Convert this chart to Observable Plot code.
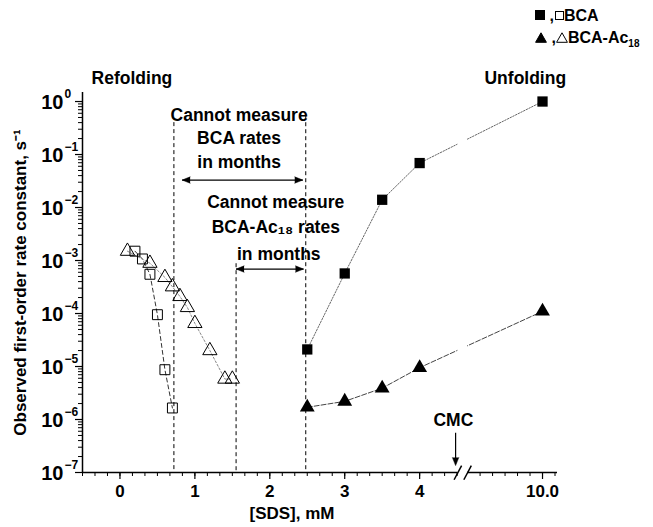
<!DOCTYPE html>
<html><head><meta charset="utf-8">
<script src="https://cdn.jsdelivr.net/npm/d3@7"></script>
<script src="https://cdn.jsdelivr.net/npm/@observablehq/plot@0.6"></script>
<style>
body{margin:0;background:#fff;}
#wrap{position:relative;width:653px;height:527px;font-family:"Liberation Sans",Arial,Helvetica,sans-serif;font-weight:bold;color:#000;}
#legend{position:absolute;left:535px;top:5px;font-size:16px;line-height:22px;white-space:nowrap;}
#legend svg{vertical-align:middle;margin-top:-3px;}
#legend sub{font-size:10px;}
</style></head><body><div id="wrap"><div id="legend"></div></div>
<script>
// ---- data ----
const bcaRefoldX = [0.2, 0.3, 0.4, 0.5, 0.6, 0.7];
const bcaRefoldY = [1.5e-3, 1.07e-3, 5.5e-4, 9.5e-5, 8.7e-6, 1.65e-6];
const acRefoldX = [0.1, 0.4, 0.6, 0.7, 0.8, 0.9, 1.0, 1.2, 1.4, 1.5];
const acRefoldY = [1.5e-3, 8.9e-4, 4.8e-4, 3.2e-4, 2.1e-4, 1.3e-4, 6.5e-5, 2.0e-5, 5.8e-6, 5.8e-6];
const unfoldX = [2.5, 3, 3.5, 4, 10];
const bcaUnfoldY = [2.1e-5, 5.7e-4, 1.4e-2, 6.9e-2, 1.0];
const acUnfoldY = [1.7e-6, 2.2e-6, 3.9e-6, 9.5e-6, 1.1e-4];
const xTickValues = [0, 1, 2, 3, 4, 10];
const xTickLabels = ["0", "1", "2", "3", "4", "10.0"];
const yTickExponents = [0, -1, -2, -3, -4, -5, -6, -7];
const boundaryX = [0.72, 1.55, 2.48];
const boundaryTop = [0.4, 8.7e-4, 0.54];
const seriesNames = ["BCA", "BCA-Ac"];

// ---- broken x axis: values beyond the break are drawn right of it ----
const BREAK = 4.575, P10 = 5.64;
const pos = x => x <= BREAK ? x : P10 + (x - 10) / 6;
const rows = (xs, ys) => xs.map((x, i) => ({x: pos(x), y: ys[i]}));
const bcaRefold = rows(bcaRefoldX, bcaRefoldY);
const acRefold = rows(acRefoldX, acRefoldY);
const bcaUnfold = rows(unfoldX, bcaUnfoldY);
const acUnfold = rows(unfoldX, acUnfoldY);

const yMajor = yTickExponents.map(e => Math.pow(10, e));
const yMinor = [];
for (let e = -7; e < 0; e++) for (let k = 2; k <= 9; k++) yMinor.push(k * Math.pow(10, e));
const xMajor = xTickValues.map(pos);
const xMinor = [];
for (let v = -0.5; v <= BREAK - 0.01; v += 1 / 6) xMinor.push(v);
for (let k = -5; k <= 1; k++) xMinor.push(P10 + k / 6);
const xLabel = d => { const i = xMajor.findIndex(v => Math.abs(v - d) < 1e-6); return i >= 0 ? xTickLabels[i] : ""; };

const gapL = BREAK - 0.065, gapR = BREAK + 0.065;
const font = "Liberation Sans, Arial, Helvetica, sans-serif";

const annotations = [
  {x: 0.16, y: 2.68, text: "Refolding"},
  {x: 5.41, y: 2.68, text: "Unfolding"},
  {x: 1.59, y: 0.55, text: "Cannot measure"},
  {x: 1.59, y: 0.2, text: "BCA rates"},
  {x: 1.59, y: 0.071, text: "in months"},
  {x: 2.08, y: 1.25e-2, text: "Cannot measure"},
  {x: 2.08, y: 4.3e-3, text: "BCA-Ac\u2081\u2088 rates"},
  {x: 2.12, y: 1.33e-3, text: "in months"},
  {x: 4.45, y: 9.5e-7, text: "CMC"}
];
const arrows = [
  {x1: 0.83, x2: 2.44, y: 0.033},
  {x1: 1.55, x2: 2.45, y: 6.9e-4}
];
const heads = [];
arrows.forEach(a => { heads.push({x: a.x1, y: a.y, r: 270}); heads.push({x: a.x2, y: a.y, r: 90}); });
heads.push({x: 4.48, y: 1.35e-7, r: 180});

const chart = Plot.plot({
  width: 653, height: 527,
  marginLeft: 82, marginRight: 96, marginTop: 92, marginBottom: 55,
  style: {fontFamily: font, fontWeight: "bold", background: "transparent", color: "#000"},
  x: {type: "linear", domain: [-0.5, 5.84]},
  y: {type: "log", domain: [1e-7, 1.48]},
  marks: [
    // connecting lines
    Plot.line(bcaRefold, {x: "x", y: "y", stroke: "#333", strokeWidth: 1, strokeDasharray: "4,3"}),
    Plot.line(acRefold, {x: "x", y: "y", stroke: "#888", strokeWidth: 1, strokeDasharray: "2,2"}),
    Plot.line(bcaUnfold, {x: "x", y: "y", stroke: "#666", strokeWidth: 1, strokeDasharray: "1.5,1.5"}),
    Plot.line(acUnfold, {x: "x", y: "y", stroke: "#444", strokeWidth: 1, strokeDasharray: "5,2"}),
    // gap where the lines cross the axis break
    Plot.rect([0], {x1: gapL, x2: gapR, y1: 1.1e-7, y2: 1.3, fill: "white"}),
    // boundaries
    Plot.ruleX(boundaryX, {x: d => d, y1: (d, i) => boundaryTop[i], y2: 1e-7, stroke: "black", strokeWidth: 1, strokeDasharray: "4,3"}),
    // points
    Plot.dot(bcaRefold, {x: "x", y: "y", symbol: "square", r: 5.6, fill: "none", stroke: "black", strokeWidth: 1}),
    Plot.dot(acRefold, {x: "x", y: "y", symbol: "triangle", r: 5.3, fill: "none", stroke: "black", strokeWidth: 1}),
    Plot.dot(bcaUnfold, {x: "x", y: "y", symbol: "square", r: 5.8, fill: "black", stroke: "none"}),
    Plot.dot(acUnfold, {x: "x", y: "y", symbol: "triangle", r: 5.5, fill: "black", stroke: "none"}),
    // annotations
    Plot.text(annotations, {x: "x", y: "y", text: "text", textAnchor: "middle", fontSize: 17.5, fontWeight: "bold", fill: "black"}),
    Plot.link(arrows, {x1: "x1", x2: "x2", y1: "y", y2: "y", stroke: "black", strokeWidth: 1.2}),
    Plot.link([0], {x1: 4.48, x2: 4.48, y1: 5.6e-7, y2: 1.5e-7, stroke: "black", strokeWidth: 1.2}),
    Plot.vector(heads, {x: "x", y: "y", rotate: "r", length: 8, r: 3.2, shape: "spike", anchor: "end", fill: "black", stroke: "black", strokeWidth: 0.5}),
    // axes
    Plot.ruleX([-0.5], {stroke: "black", strokeWidth: 1.5}),
    Plot.ruleY([{a: -0.5, b: gapL}, {a: gapR, b: 5.84}], {y: 1e-7, x1: "a", x2: "b", stroke: "black", strokeWidth: 1.5}),
    Plot.link([{a: gapL - 0.05, b: gapL + 0.05}, {a: gapR - 0.05, b: gapR + 0.05}], {x1: "a", x2: "b", y1: 7.3e-8, y2: 1.35e-7, stroke: "black", strokeWidth: 1.5}),
    Plot.axisY({ticks: yMajor, tickFormat: () => "", tickSize: 7, label: null, strokeWidth: 1.2}),
    Plot.axisY({ticks: yMinor, tickFormat: () => "", tickSize: 4, label: null}),
    Plot.text(yMajor, {y: d => d, frameAnchor: "left", textAnchor: "end", dx: -19, dy: 1, text: () => "10", fontSize: 20, fontWeight: "bold", fill: "black"}),
    Plot.text(yMajor, {y: d => d, frameAnchor: "left", textAnchor: "start", dx: -18, dy: -7, text: d => String(Math.round(Math.log10(d))).replace("-", "\u2212"), fontSize: 12, fontWeight: "bold", fill: "black"}),
    Plot.axisX({ticks: xMajor, tickFormat: xLabel, tickSize: 7, tickPadding: 5, fontSize: 17, fontWeight: "bold", label: null, strokeWidth: 1.2}),
    Plot.axisX({ticks: xMinor, tickFormat: () => "", tickSize: 4, label: null}),
    Plot.text(["[SDS], mM"], {frameAnchor: "bottom", textAnchor: "middle", dx: -28, dy: 46, fontSize: 17, fontWeight: "bold", fill: "black"}),
    Plot.text(["Observed first-order rate constant, s\u207B\u00B9"], {frameAnchor: "left", textAnchor: "middle", rotate: -90, dx: -62, fontSize: 17, fontWeight: "bold", fill: "black"})
  ]
});
const wrap = document.getElementById("wrap");
wrap.insertBefore(chart, wrap.firstChild);

// legend
const sq = (fill) => `<svg width="10" height="10"><rect x="${fill ? 0 : 1.5}" y="${fill ? 0 : 1.5}" width="${fill ? 10 : 8}" height="${fill ? 10 : 8}" fill="${fill ? "black" : "none"}" stroke="black" stroke-width="1"/></svg>`;
const tri = (fill) => `<svg width="12" height="11"><path d="M6,0.8L11.4,10.3L0.6,10.3Z" fill="${fill ? "black" : "none"}" stroke="black" stroke-width="1"/></svg>`;
document.getElementById("legend").innerHTML =
  `<div>${sq(true)}&nbsp;,${sq(false)}${seriesNames[0]}</div>` +
  `<div>${tri(true)}&nbsp;,${tri(false)}${seriesNames[1]}<sub>18</sub></div>`;
</script></body></html>
